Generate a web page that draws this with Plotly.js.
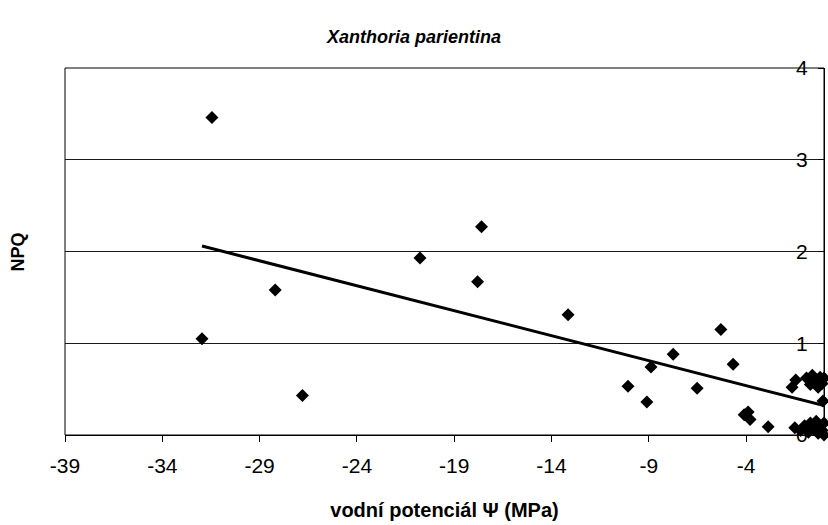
<!DOCTYPE html>
<html>
<head>
<meta charset="utf-8">
<script src="https://cdn.plot.ly/plotly-3.0.1.min.js"></script>
<style>html,body{margin:0;padding:0;background:#fff;}#chart{width:828px;height:525px;}</style>
</head>
<body>
<div id="chart"></div>
<script>
// Data
const chartTitle = "Xanthoria parientina";
const xTitle = "vodní potenciál Ψ (MPa)";
const yTitle = "NPQ";

const waterPotential = [
  -31.45, -31.96, -28.2, -26.8, -20.76, -17.6, -17.8, -13.15,
  -10.07, -9.1, -8.89, -7.75, -6.52, -5.3, -4.67,
  -4.1, -3.9, -3.8, -2.87,
  -1.64, -1.45, -0.9, -0.7, -0.6, -0.4, -0.3, -0.2, -0.1, 0.0,
  -0.05,
  -1.5, -1.2, -1.0, -0.8, -0.7, -0.5, -0.4, -0.3, -0.2, -0.1, 0.0, 0.0
];
const npq = [
  3.46, 1.05, 1.58, 0.43, 1.93, 2.27, 1.67, 1.31,
  0.53, 0.36, 0.74, 0.88, 0.51, 1.15, 0.77,
  0.22, 0.25, 0.17, 0.09,
  0.52, 0.60, 0.62, 0.55, 0.65, 0.58, 0.52, 0.63, 0.56, 0.62,
  0.37,
  0.08, 0.05, 0.10, 0.03, 0.13, 0.07, 0.15, 0.02, 0.10, 0.05, 0.13, 0.0
];

// Linear trend line endpoints
const trendX = [-31.96, 0];
const trendY = [2.06, 0.32];

const xTicks = [-39, -34, -29, -24, -19, -14, -9, -4];
const xTickText = ["-39", "-34", "-29", "-24", "-19", "-14", "-9", "-4"];
const yTicks = [0, 1, 2, 3, 4];
const yTickText = ["0", "1", "2", "3", "4"];

const font = "Arial, 'Liberation Sans', sans-serif";

const traces = [
  {
    type: "scatter", mode: "markers",
    x: waterPotential, y: npq,
    marker: {symbol: "diamond", size: 10, color: "#000", line: {width: 0}},
    cliponaxis: false, showlegend: false, hoverinfo: "x+y"
  },
  {
    type: "scatter", mode: "lines",
    x: trendX, y: trendY,
    line: {color: "#000", width: 3},
    cliponaxis: false, showlegend: false
  }
];

const layout = {
  width: 828, height: 525,
  margin: {l: 65, r: 4, t: 68, b: 90, pad: 0},
  paper_bgcolor: "#fff", plot_bgcolor: "#fff",
  showlegend: false,
  title: {
    text: chartTitle,
    font: {family: font, size: 18, color: "#000", weight: "bold", style: "italic"},
    x: 0.5, xref: "container", y: 0.93, yref: "container", yanchor: "middle"
  },
  xaxis: {
    range: [-39, 0],
    tickmode: "array", tickvals: xTicks, ticktext: xTickText,
    ticks: "outside", ticklen: 6, tickcolor: "#000", tickwidth: 1,
    showline: true, linecolor: "#000", linewidth: 1,
    showgrid: false, zeroline: false,
    tickfont: {family: font, size: 21, color: "#000"},
    ticklabelstandoff: 6,
    title: {text: xTitle, font: {family: font, size: 20, color: "#000", weight: "bold"}, standoff: 26}
  },
  yaxis: {
    range: [0, 4],
    side: "left", anchor: "free", position: 1,
    tickmode: "array", tickvals: yTicks, ticktext: yTickText,
    ticks: "outside", ticklen: 6, tickcolor: "#000", tickwidth: 1,
    showline: true, linecolor: "#000", linewidth: 1,
    showgrid: true, gridcolor: "#1a1a1a", gridwidth: 1,
    zeroline: false,
    tickfont: {family: font, size: 21, color: "#000"},
    ticklabelstandoff: 6
  },
  shapes: [
    {type: "rect", xref: "paper", yref: "paper", x0: 0, x1: 1, y0: 0, y1: 1,
     line: {color: "#000", width: 1}, fillcolor: "rgba(0,0,0,0)", layer: "below"}
  ],
  annotations: [
    {text: yTitle, xref: "paper", yref: "paper", x: -0.062, y: 0.5,
     xanchor: "center", yanchor: "middle", textangle: -90, showarrow: false,
     font: {family: font, size: 18, color: "#000", weight: "bold"}}
  ]
};

Plotly.newPlot("chart", traces, layout, {displayModeBar: false, staticPlot: true});
</script>
</body>
</html>
